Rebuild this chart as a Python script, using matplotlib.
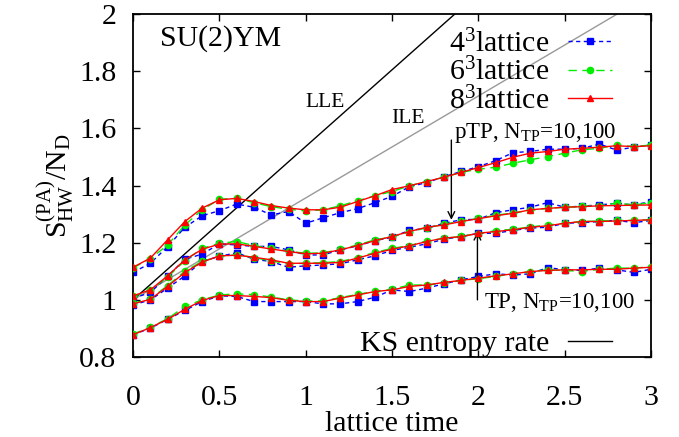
import numpy as np
import matplotlib
matplotlib.use("Agg")
import matplotlib.pyplot as plt

plt.rcParams['font.family'] = ['Liberation Serif', 'DejaVu Serif']
plt.rcParams['mathtext.fontset'] = 'custom'
plt.rcParams['mathtext.rm'] = 'Liberation Serif'
plt.rcParams['mathtext.it'] = 'Liberation Serif:italic'

# lattice time, 0 .. 3 in steps of 0.1
t = [0.0, 0.1, 0.2, 0.3, 0.4, 0.5, 0.6, 0.7, 0.8, 0.9, 1.0,
     1.1, 1.2, 1.3, 1.4, 1.5, 1.6, 1.7, 1.8, 1.9, 2.0,
     2.1, 2.2, 2.3, 2.4, 2.5, 2.6, 2.7, 2.8, 2.9, 3.0]

# group 1 (top)
g1_4 = [1.096, 1.128, 1.186, 1.254, 1.294, 1.312, 1.335, 1.324, 1.297, 1.309, 1.268,
        1.287, 1.305, 1.319, 1.340, 1.362, 1.396, 1.410, 1.431, 1.449, 1.466,
        1.487, 1.515, 1.519, 1.527, 1.527, 1.530, 1.545, 1.524, 1.534, 1.542]
g1_6 = [1.112, 1.144, 1.192, 1.262, 1.315, 1.352, 1.355, 1.340, 1.326, 1.317, 1.311,
        1.315, 1.329, 1.347, 1.364, 1.379, 1.399, 1.414, 1.429, 1.446, 1.457,
        1.464, 1.478, 1.490, 1.501, 1.513, 1.525, 1.530, 1.542, 1.536, 1.542]
g1_8 = [1.114, 1.146, 1.210, 1.274, 1.321, 1.350, 1.355, 1.344, 1.330, 1.321, 1.315,
        1.315, 1.324, 1.344, 1.364, 1.386, 1.399, 1.414, 1.429, 1.446, 1.463,
        1.480, 1.499, 1.513, 1.519, 1.527, 1.530, 1.534, 1.539, 1.536, 1.539]
# group 2 (pTP)
g2_4 = [1.005, 1.026, 1.082, 1.142, 1.160, 1.196, 1.192, 1.187, 1.187, 1.175, 1.157,
        1.157, 1.175, 1.189, 1.207, 1.219, 1.243, 1.250, 1.268, 1.280, 1.282,
        1.305, 1.315, 1.324, 1.340, 1.324, 1.328, 1.332, 1.338, 1.332, 1.344]
g2_6 = [1.012, 1.033, 1.080, 1.137, 1.180, 1.198, 1.204, 1.190, 1.180, 1.170, 1.163,
        1.164, 1.177, 1.192, 1.210, 1.220, 1.238, 1.252, 1.264, 1.276, 1.285,
        1.296, 1.304, 1.313, 1.320, 1.324, 1.327, 1.330, 1.338, 1.332, 1.340]
g2_8 = [1.014, 1.035, 1.084, 1.140, 1.177, 1.195, 1.196, 1.187, 1.178, 1.169, 1.161,
        1.163, 1.175, 1.190, 1.207, 1.222, 1.239, 1.254, 1.262, 1.274, 1.284,
        1.294, 1.303, 1.315, 1.320, 1.324, 1.326, 1.329, 1.330, 1.331, 1.332]
# group 3 (TP)
g3_4 = [0.982, 1.000, 1.041, 1.084, 1.135, 1.152, 1.165, 1.142, 1.134, 1.114, 1.119,
        1.122, 1.126, 1.140, 1.154, 1.173, 1.184, 1.196, 1.212, 1.221, 1.233,
        1.233, 1.243, 1.251, 1.254, 1.268, 1.270, 1.274, 1.278, 1.270, 1.278]
g3_6 = [0.988, 1.004, 1.050, 1.100, 1.135, 1.152, 1.158, 1.148, 1.136, 1.126, 1.128,
        1.130, 1.134, 1.148, 1.166, 1.180, 1.190, 1.206, 1.215, 1.222, 1.232,
        1.242, 1.247, 1.255, 1.262, 1.268, 1.274, 1.276, 1.278, 1.278, 1.281]
g3_8 = [0.986, 1.002, 1.047, 1.096, 1.132, 1.154, 1.156, 1.149, 1.140, 1.128, 1.128,
        1.128, 1.131, 1.146, 1.163, 1.177, 1.189, 1.204, 1.216, 1.221, 1.233,
        1.239, 1.245, 1.254, 1.259, 1.268, 1.274, 1.274, 1.276, 1.278, 1.280]
# group 4 (bottom)
g4_4 = [0.878, 0.901, 0.932, 0.963, 0.994, 1.014, 1.012, 0.994, 0.994, 0.994, 0.994,
        0.986, 0.986, 0.994, 1.009, 1.035, 1.029, 1.041, 1.056, 1.070, 1.082,
        1.091, 1.087, 1.091, 1.113, 1.105, 1.103, 1.111, 1.105, 1.096, 1.107]
g4_6 = [0.880, 0.905, 0.934, 0.977, 1.000, 1.017, 1.021, 1.018, 1.010, 1.000, 0.996,
        0.996, 1.008, 1.019, 1.030, 1.037, 1.052, 1.052, 1.058, 1.068, 1.074,
        1.082, 1.091, 1.099, 1.105, 1.103, 1.099, 1.107, 1.111, 1.111, 1.116]
g4_8 = [0.878, 0.903, 0.932, 0.967, 0.998, 1.015, 1.015, 1.012, 1.008, 0.998, 0.994,
        0.994, 1.006, 1.017, 1.029, 1.035, 1.047, 1.052, 1.061, 1.068, 1.076,
        1.084, 1.091, 1.099, 1.103, 1.105, 1.105, 1.107, 1.107, 1.111, 1.114]

# KS entropy rate lines (LLE, ILE)
ks_t = [0.0, 3.0]
lle = [1.0, 2.61]
ile = [1.0, 2.07]

# arrows: (x, y_from, y_to)
ptp_arrow = (1.843, 1.559, 1.280)
tp_arrow = (1.994, 1.000, 1.238)

FS = 21.5

fig = plt.figure(figsize=(6.79, 4.37), dpi=100)
ax = fig.add_axes([0.196, 0.183, 0.763, 0.785])

ks_line, = ax.plot(ks_t, lle, color='black', lw=1.0, zorder=1)
ax.plot(ks_t, ile, color='#999999', lw=1.0, zorder=1)

style4 = dict(color='#0000ff', ls=(0, (3, 2.5)), lw=1.0, marker='s', ms=4.8, zorder=2)
style6 = dict(color='#00ee00', ls=(0, (6, 4)), lw=1.0, marker='o', ms=4.5, zorder=3)
style8 = dict(color='#ff0000', ls='-', lw=1.0, marker='^', ms=4.3, zorder=4)

h4 = h6 = h8 = None
for a, b, c in [(g1_4, g1_6, g1_8), (g2_4, g2_6, g2_8), (g3_4, g3_6, g3_8), (g4_4, g4_6, g4_8)]:
    h4, = ax.plot(t, a, **style4)
    h6, = ax.plot(t, b, **style6)
    h8, = ax.plot(t, c, **style8)

ax.set_xlim(0, 3)
ax.set_ylim(0.8, 2)
ax.set_xticks([0, 0.5, 1, 1.5, 2, 2.5, 3])
ax.set_xticklabels(['0', '0.5', '1', '1.5', '2', '2.5', '3'])
ax.set_yticks([0.8, 1, 1.2, 1.4, 1.6, 1.8, 2])
ax.set_yticklabels(['0.8', '1', '1.2', '1.4', '1.6', '1.8', '2'])
ax.tick_params(direction='in', top=True, right=True, length=5, width=1, labelsize=FS)
ax.tick_params(axis='x', pad=20)
ax.tick_params(axis='y', pad=12)
for s in ax.spines.values():
    s.set_linewidth(1.3)

ax.set_xlabel('lattice time', fontsize=FS, labelpad=0)
ax.set_ylabel(r'$\mathrm{S}^{(\mathrm{PA})}_{\mathrm{HW}}/\mathrm{N}_{\mathrm{D}}$', fontsize=FS, labelpad=2)

ax.text(0.157, 1.913, 'SU(2)YM', fontsize=FS, ha='left', va='center')
ax.text(1.0, 1.689, 'LLE', fontsize=15.5, ha='left', va='center')
ax.text(1.494, 1.636, 'ILE', fontsize=15.5, ha='left', va='center')
ax.text(1.86, 1.565, r'pTP, N$_{\mathrm{TP}}$=10,100', fontsize=16.5, ha='left', va='baseline')
ax.text(2.03, 0.972, r'TP, N$_{\mathrm{TP}}$=10,100', fontsize=16.5, ha='left', va='baseline')

for x, y0, y1 in [ptp_arrow, tp_arrow]:
    ax.annotate('', xy=(x, y1), xytext=(x, y0),
                arrowprops=dict(arrowstyle='->', lw=1.0, color='black',
                                shrinkA=0, shrinkB=0, mutation_scale=12))

leg1 = ax.legend([h4, h6, h8], ['4$^3$lattice', '6$^3$lattice', '8$^3$lattice'],
                 loc='upper right', bbox_to_anchor=(0.925, 0.955), markerfirst=False,
                 frameon=False, fontsize=FS, handlelength=1.5, handletextpad=0.6,
                 labelspacing=0.0, borderpad=0, borderaxespad=0)
ax.add_artist(leg1)
ax.legend([ks_line], ['KS entropy rate'], loc='lower right', bbox_to_anchor=(0.925, 0.0),
          markerfirst=False, frameon=False, fontsize=FS, handlelength=1.5,
          handletextpad=0.6, borderpad=0, borderaxespad=0)

fig.savefig('out.png', dpi=100)
